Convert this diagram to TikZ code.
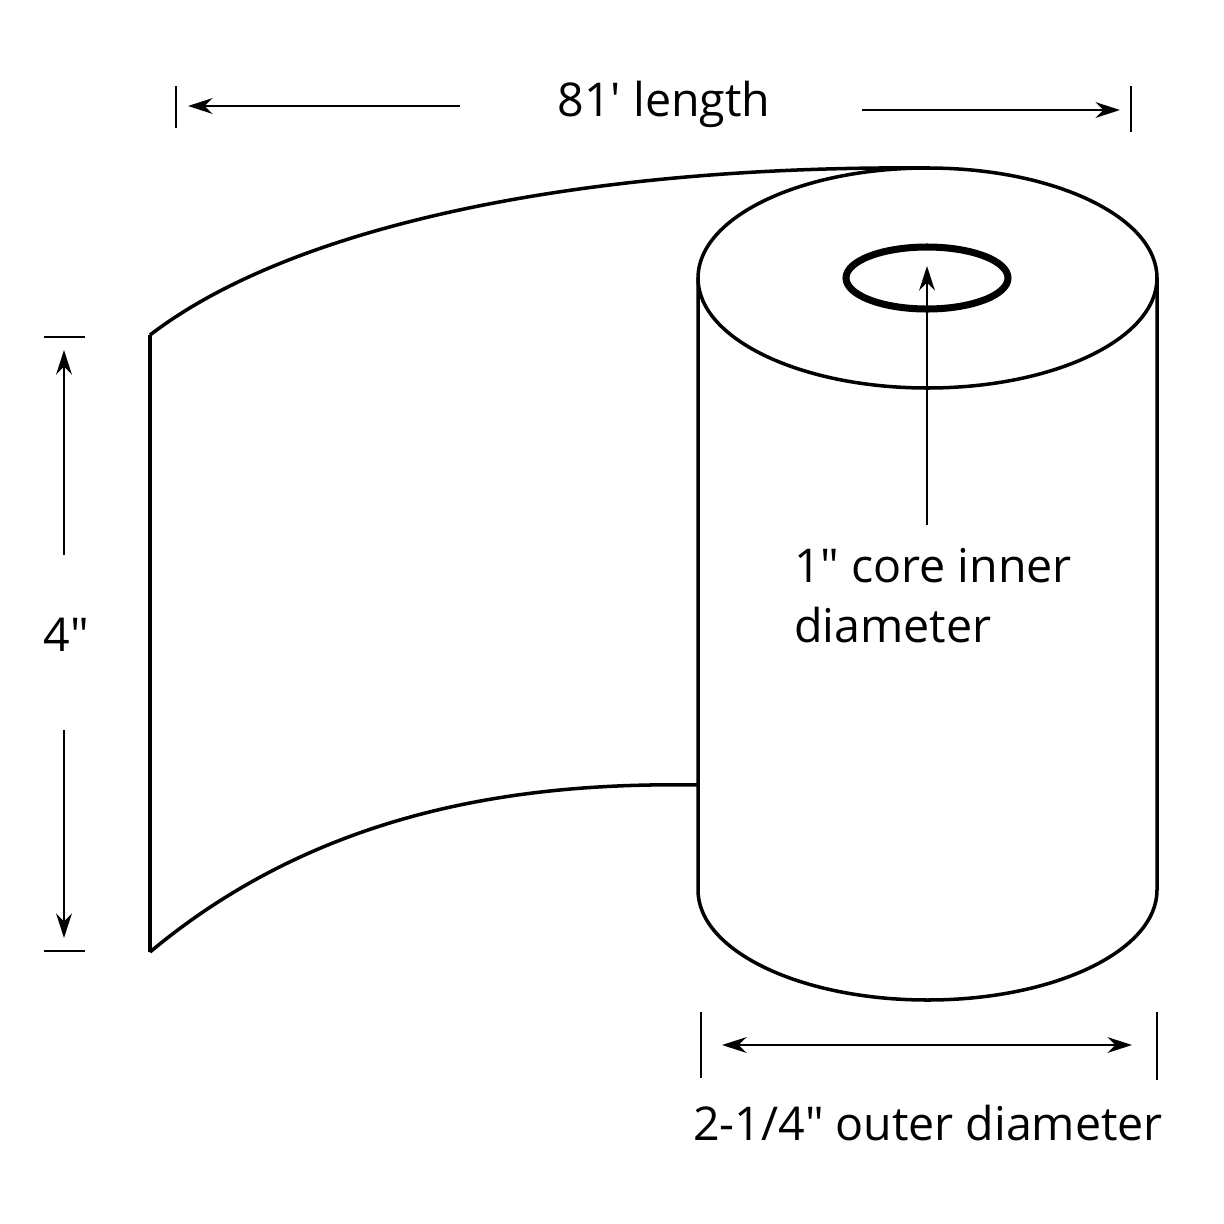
\documentclass[tikz,border=0pt]{standalone}
\usepackage{fontspec}
\setmainfont{Open Sans}
\usetikzlibrary{arrows.meta}
\tikzset{
  dim/.style={line width=1.2pt,-{Stealth[length=14pt,width=9pt]}},
  tick/.style={line width=1.2pt},
  lbl/.style={font=\fontsize{26.5}{34}\selectfont}
}
\begin{document}
\begin{tikzpicture}[x=0.02cm,y=-0.02cm]
\useasboundingbox (0,0) rectangle (1224,1224);
% sheet
\draw[line width=2pt]
(150,335) .. controls (300,220) and (600,165) .. (930,168)
(150,335) -- (150,952)
(150,952) .. controls (320,810) and (520,782) .. (698,785);
% roll
\draw[line width=2pt,fill=white]
(698,278) -- (698,890) arc[start angle=180,end angle=0,x radius=229.5,y radius=110]
-- (1157,278);
\draw[line width=2pt] (927.5,278) ellipse[x radius=229.5,y radius=110];
\draw[line width=4pt] (927,278) ellipse[x radius=81,y radius=31];
% core label
\node[lbl,align=left,anchor=north west] (core) at (788,542) {1″ core inner\\diameter};
\coordinate (coretop) at (927,266);
\draw[dim] (927,525) -- (coretop);
% length
\node[lbl] (len) at (664,104) {81′ length};
\draw[tick] (176,86) -- (176,128) (1131,86) -- (1131,132);
\draw[dim] (460,106) -- (188,106);
\draw[dim] (862,110) -- (1120,110);
% height
\node[lbl] (ht) at (66,635) {4″};
\draw[tick] (44,337) -- (85,337) (44,951) -- (85,951);
\draw[dim] (64,555) -- (64,350);
\draw[dim] (64,730) -- (64,938);
% outer diameter
\node[lbl] (od) at (928,1123) {2-1/4″ outer diameter};
\draw[tick] (701,1012) -- (701,1078) (1157,1012) -- (1157,1080);
\draw[dim,{Stealth[length=14pt,width=9pt]}-{Stealth[length=14pt,width=9pt]}] (722,1045) -- (1132,1045);
\end{tikzpicture}
\end{document}
